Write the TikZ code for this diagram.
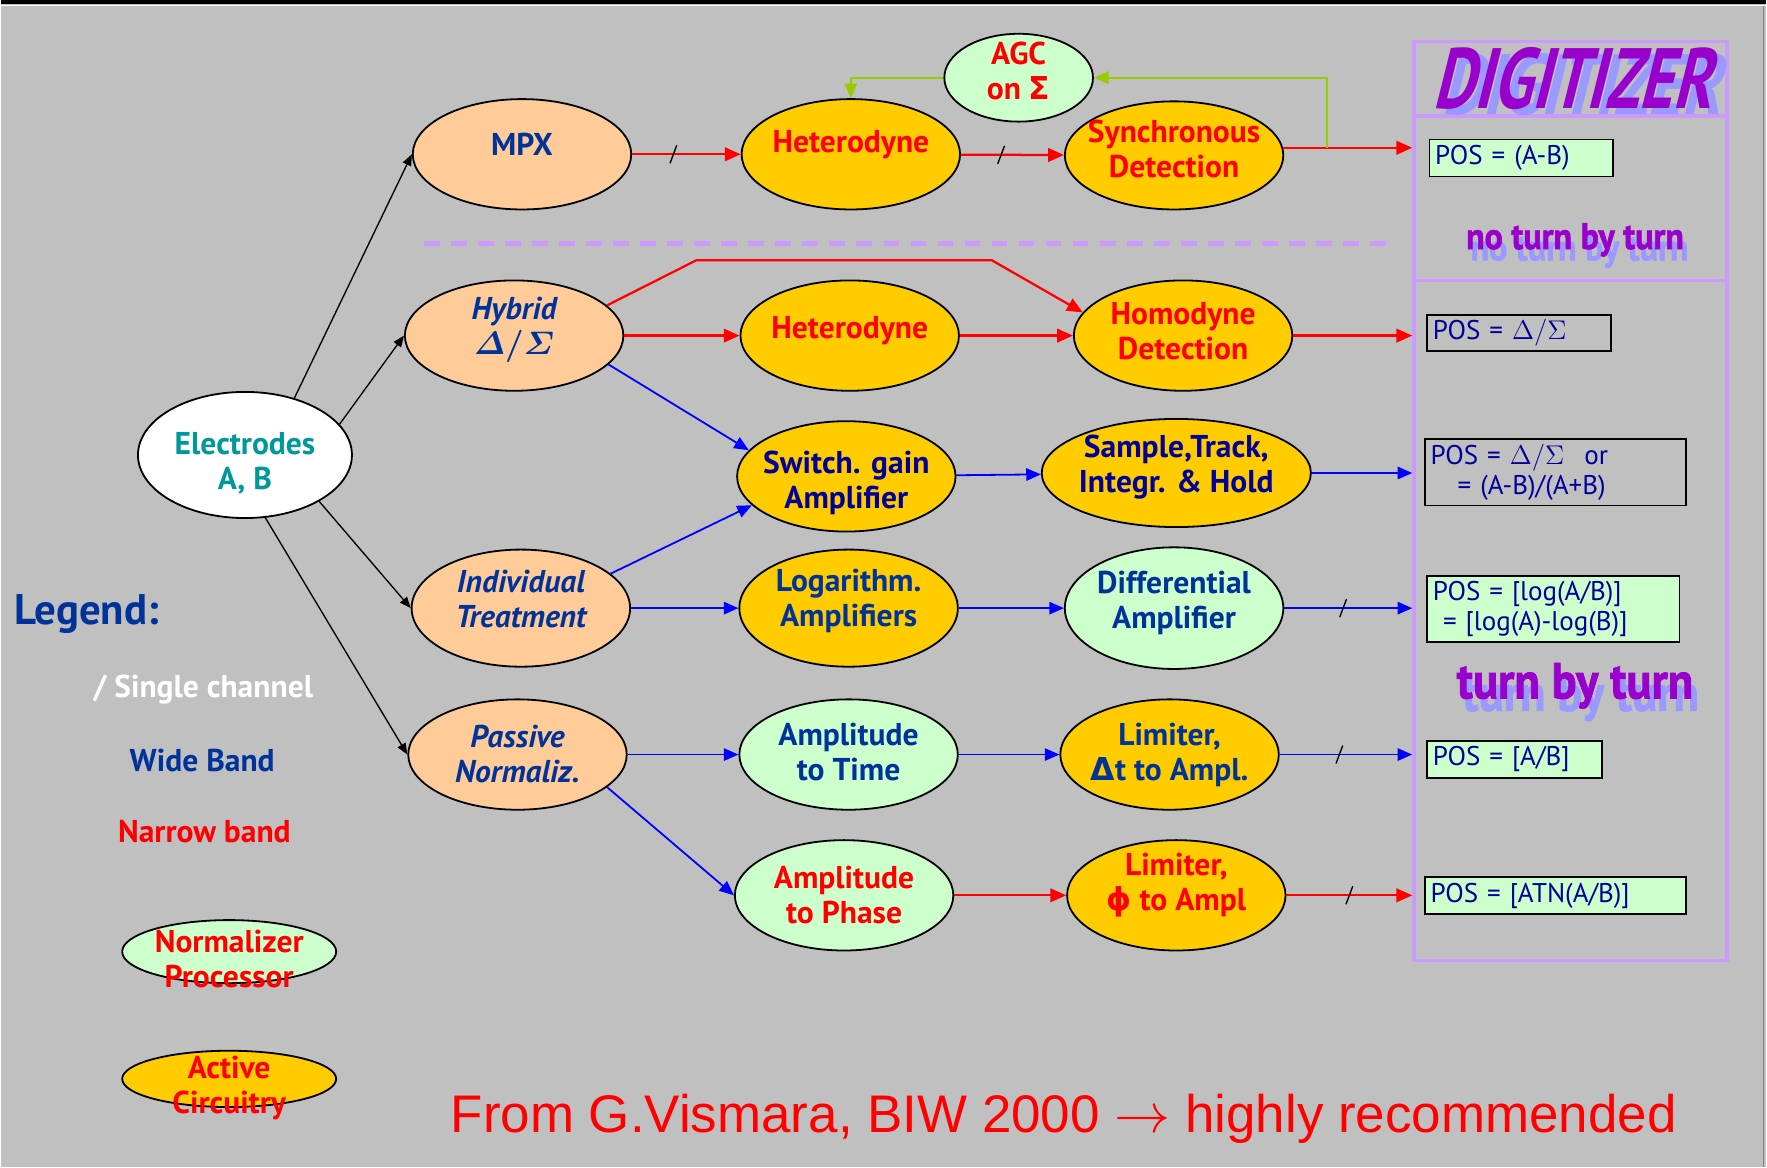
\documentclass[tikz,border=0pt]{standalone}
\usepackage{amsmath}
\usepackage{bm}
\usepackage[no-math]{fontspec}
\newfontfamily\comicfont{PT Sans}
\newfontfamily\titlefont{PT Sans}[FakeStretch=0.75,FakeSlant=0.25]
\newfontfamily\turnfont{PT Sans}[FakeStretch=0.92,FakeBold=1.5]
\newfontfamily\arialfont{Liberation Sans}
\newfontfamily\greekfont{DejaVu Sans}
\usetikzlibrary{arrows.meta, positioning, shapes.geometric, decorations.markings}

\definecolor{slideGray}{HTML}{C0C0C0}
\definecolor{peach}{HTML}{FFCC99}
\definecolor{gold}{HTML}{FFCC00}
\definecolor{mint}{HTML}{CCFFCC}
\definecolor{navy}{HTML}{000099}
\definecolor{wideBlue}{HTML}{003399}
\definecolor{electrodeTeal}{HTML}{009999}
\definecolor{lilac}{HTML}{CC99FF}
\definecolor{agcGreen}{HTML}{99CC00}
\definecolor{wordPurple}{HTML}{9900CC}
\definecolor{wordShadow}{HTML}{9999FF}

\begin{document}
\begin{tikzpicture}[x=0.5pt, y=-0.5pt,
    every node/.style={font=\comicfont\bfseries\fontsize{14}{15.5}\selectfont},
    blob/.style={ellipse, draw=black, line width=0.8pt, align=center,
      minimum width=97pt, minimum height=49pt, inner xsep=-10pt, inner ysep=-7pt},
    lift/.style={execute at end node={\rule[-#1]{0pt}{#1}}},
    sink/.style={execute at end node={\rule{0pt}{#1}}},
    normnode/.style={blob, fill=peach, text=wideBlue,
      font=\comicfont\bfseries\itshape\fontsize{14}{15.5}\selectfont},
    activenode/.style={blob, fill=gold},
    procnode/.style={blob, fill=mint},
    posbox/.style={draw=black, line width=0.8pt, anchor=north west, align=left,
      inner xsep=2.5pt, inner ysep=0pt, text=navy,
      font=\comicfont\fontsize{12}{13.5}\selectfont},
    wordart/.style={font=\titlefont\bfseries\fontsize{#1}{#1}\selectfont},
    turnart/.style={font=\turnfont\bfseries\fontsize{#1}{#1}\selectfont},
    narrowband/.style={draw=red, line width=1pt, -{Triangle[length=7pt,width=6pt]}},
    wideband/.style={draw=blue, line width=0.8pt, -{Triangle[length=6.5pt,width=5.5pt]}},
    agcloop/.style={draw=agcGreen, line width=0.8pt, -{Triangle[length=6.5pt,width=5.5pt]}},
    feeder/.style={draw=black, line width=0.6pt, -{Triangle[length=5pt,width=4pt]}},
    single/.style={postaction={decorate, decoration={markings, mark=at position #1 with
      {\draw[black, line width=0.6pt, -] (-1.5pt,-4pt) -- (1.5pt,4pt);}}}},
  ]
  % slide background
  \fill[slideGray] (0,0) rectangle (1568,1036);
  \fill[black] (0,0) rectangle (1568,4);
  \draw[white, line width=0.5pt] (0,5) -- (1568,5);
  \draw[gray, line width=0.5pt] (1565,5) -- (1565,1036);

  % digitizer frame
  \node[draw=lilac, line width=1.5pt, minimum width=139pt, minimum height=408pt,
    inner sep=0pt] (digi) at (1394,445) {};
  \coordinate (sepTop) at (1255,103);
  \coordinate (sepMid) at (1255,249);
  \draw[lilac, line width=1.5pt] (sepTop) -- (sepTop -| digi.east);
  \draw[lilac, line width=1.5pt] (sepMid) -- (sepMid -| digi.east);
  \node[wordart=38, text=wordShadow] (digishadow) at (1403,75) {DIGITIZER};
  \node[wordart=38, text=wordPurple] (digititle) at (1395,70) {DIGITIZER};
  \node[turnart=16.4, text=wordShadow] (noturnshadow) at (1402,223) {no turn by turn};
  \node[turnart=16.4, text=wordPurple] (noturn) at (1398,213) {no turn by turn};
  \node[turnart=22.5, text=wordShadow] (turnshadow) at (1403,620) {turn by turn};
  \node[turnart=22.5, text=wordPurple] (turn) at (1398,609) {turn by turn};

  % narrow / wide band separation
  \draw[lilac, line width=2pt, dash pattern=on 7pt off 5pt] (376,216) -- (1235,216);

  % processing chain
  \node[blob, fill=white, text=electrodeTeal, minimum width=95pt, minimum height=56pt,
    sink=32.6pt] (elec) at (217,404) {Electrodes\\A, B};
  \node[normnode, font=\comicfont\bfseries\fontsize{14}{15.5}\selectfont, lift=9pt]
    (mpx) at (463,137) {MPX};
  \node[activenode, text=red, lift=11pt] (het1) at (755,137) {Heterodyne};
  \node[procnode, text=red, minimum width=66pt, minimum height=39pt, lift=6pt] (agc) at (904,69)
    {AGC\\on {\greekfont Σ}};
  \node[activenode, text=red, minimum height=48pt, lift=6pt] (sync) at (1042,138)
    {Synchronous\\Detection};
  \node[normnode, lift=8.5pt] (hyb) at (456,298) {Hybrid\\$\bm{\varDelta/\varSigma}$};
  \node[activenode, text=red, lift=7.4pt] (het2) at (754,298) {Heterodyne};
  \node[activenode, text=red, lift=4pt] (homo) at (1050,298) {Homodyne\\Detection};
  \node[activenode, text=navy, sink=31pt] (sw) at (751,423) {Switch. gain\\Amplifier};
  \node[activenode, text=navy, minimum width=119.5pt, minimum height=48pt, lift=8.4pt]
    (sth) at (1044,420) {Sample,Track,\\Integr. \& Hold};
  \node[normnode, minimum height=52pt, lift=8pt] (ind) at (462,540) {Individual\\Treatment};
  \node[activenode, text=wideBlue, minimum height=52pt, lift=8.9pt] (logamp) at (753,540)
    {Logarithm.\\Amplifiers};
  \node[procnode, text=wideBlue, minimum height=54pt, lift=7.4pt] (diff) at (1042,540)
    {Differential\\Amplifier};
  \node[normnode, lift=1pt] (pas) at (459,670) {Passive\\Normaliz.};
  \node[procnode, text=wideBlue, lift=2.5pt] (att) at (753,670) {Amplitude\\to Time};
  \node[activenode, text=wideBlue] (limt) at (1038,670) {Limiter,\\{\greekfont Δ}t to Ampl.};
  \node[procnode, text=red] (atp) at (749,795) {Amplitude\\to Phase};
  \node[activenode, text=red, lift=11.9pt] (limp) at (1044,795) {Limiter,\\{\greekfont ϕ} to Ampl};

  % digitizer outputs
  \node[posbox, fill=mint, text width=76.5pt, minimum height=16.5pt] (pos1) at (1268,123)
    {POS = (A-B)};
  \node[posbox, text width=76.5pt, minimum height=16pt] (pos2) at (1266,279)
    {POS = $\Delta/\Sigma$};
  \node[posbox, text width=111pt, minimum height=29.5pt] (pos3) at (1264,389)
    {POS = $\Delta/\Sigma$\hspace{9pt}or\\\hspace*{12pt}= (A-B)/(A+B)};
  \node[posbox, fill=mint, text width=107pt, minimum height=29pt] (pos4) at (1266,511)
    {POS = [log(A/B)]\\\hspace*{4.5pt}= [log(A)-log(B)]};
  \node[posbox, fill=mint, text width=72.5pt, minimum height=16.5pt] (pos5) at (1266,657)
    {POS = [A/B]};
  \node[posbox, fill=mint, text width=111pt, minimum height=16.5pt] (pos6) at (1264,778)
    {POS = [ATN(A/B)]};

  % electrodes fan out
  \draw[feeder] (elec.49) -- (mpx.west);
  \draw[feeder] (elec.18) -- (hyb.west);
  \draw[feeder] (elec.-32) -- (ind.west);
  \draw[feeder] (elec.-72) -- (pas.west);

  % narrow band paths
  \coordinate (bendA) at (618,231);
  \coordinate (bendB) at (880,231);
  \coordinate (tap) at (1178,131);
  \draw[narrowband, single=0.38] (mpx) -- (het1);
  \draw[narrowband, single=0.39] (het1) -- (sync);
  \draw[narrowband] (sync.4) -- (sync.4 -| digi.west);
  \draw[narrowband] (hyb) -- (het2);
  \draw[narrowband] (het2) -- (homo);
  \draw[narrowband] (hyb.18) -- (bendA) -- (bendB) -- (homo.167);
  \draw[narrowband] (homo) -- (homo -| digi.west);
  \draw[narrowband] (atp) -- (limp);
  \draw[narrowband, single=0.5] (limp) -- (limp -| digi.west);

  % AGC loop
  \draw[agcloop] (tap) |- (agc.east);
  \draw[agcloop] (agc.west) -| (het1.north);

  % wide band paths
  \draw[wideband] (hyb.-17) -- (sw.165);
  \draw[wideband] (ind.21) -- (sw.197);
  \draw[wideband] (sw) -- (sth);
  \draw[wideband] (sth) -- (sth -| digi.west);
  \draw[wideband] (ind) -- (logamp);
  \draw[wideband] (logamp) -- (diff);
  \draw[wideband, single=0.46] (diff) -- (diff -| digi.west);
  \draw[wideband] (pas) -- (att);
  \draw[wideband] (att) -- (limt);
  \draw[wideband, single=0.45] (limt) -- (limt -| digi.west);
  \draw[wideband] (pas.-20) -- (atp.west);

  % legend
  \node[anchor=west, text=wideBlue, font=\comicfont\bfseries\fontsize{19}{21}\selectfont]
    (legend) at (5,545) {Legend:};
  \node[text=white] (lgsingle) at (180,612) {/ Single channel};
  \node[text=wideBlue] (lgwide) at (179,675) {Wide Band};
  \node[text=red] (lgnarrow) at (181,738) {Narrow band};
  \node[procnode, text=red, minimum width=95pt, minimum height=28pt, sink=32pt]
    (lgnorm) at (203,845) {Normalizer\\Processor};
  \node[activenode, text=red, minimum width=95pt, minimum height=25pt, sink=33.6pt,
    inner ysep=-10pt] (lgact) at (203,958) {Active\\Circuitry};

  % credit line
  \node[text=red, font=\arialfont\fontsize{23.5}{26}\selectfont] (credit) at (944,993)
    {From G.Vismara, BIW 2000 $\rightarrow$ highly recommended};
\end{tikzpicture}
\end{document}
